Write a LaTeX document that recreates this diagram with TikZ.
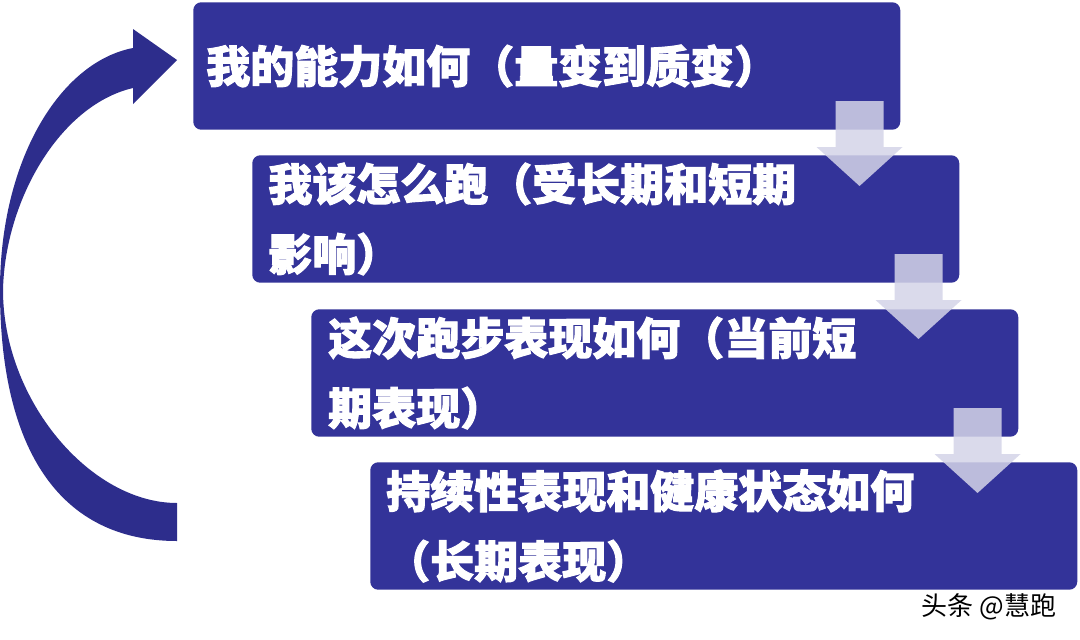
\documentclass[tikz,border=0pt]{standalone}
\usepackage{fontspec}
\newfontfamily\cjk{Noto Sans CJK SC}[BoldFeatures={FakeBold=2.2}]
\usetikzlibrary{calc}
\definecolor{boxblue}{RGB}{51,51,153}
\definecolor{arcblue}{RGB}{45,45,140}
\definecolor{arrowgrey}{RGB}{212,212,232}
\tikzset{
  stepbox/.style={fill=boxblue, rounded corners=6pt, anchor=north west, text=white,
    font=\cjk\bfseries\fontsize{33pt}{52.5pt}\selectfont, align=left,
    minimum height=95.6pt, inner ysep=0pt},
  downarr/.style={fill=arrowgrey, fill opacity=0.85},
  bigarc/.style={fill=arcblue},
  mark text/.style={font=\cjk\fontsize{19.5pt}{19.5pt}\selectfont, text=black},
}
\newcommand\blockdown[1]{%
  \coordinate (t#1) at ($(#1.south east)+(-41,0)$);
  \fill[downarr] ($(t#1)+(-24,-29)$) -- ($(t#1)+(24,-29)$) -- ($(t#1)+(24,17)$)
    -- ($(t#1)+(43,17)$) -- ($(t#1)+(0,56)$) -- ($(t#1)+(-43,17)$)
    -- ($(t#1)+(-24,17)$) -- cycle;}
\begin{document}
\begin{tikzpicture}[x=0.75pt,y=-0.75pt]
\fill[white] (0,0) rectangle (1080,639);
\useasboundingbox (0,0) rectangle (1080,639);
% curved return arrow
\fill[bigarc] (177,541) -- (177,503)
  .. controls (90,503) and (3,400) .. (3,290)
  .. controls (5,200) and (60,105) .. (133,88)
  -- (133,104) -- (177,60) -- (133,29) -- (133,48)
  .. controls (60,62) and (0,160) .. (0,290)
  .. controls (0,450) and (60,541) .. (177,541) -- cycle;
% step boxes
\node[stepbox, inner xsep=9.75pt, text width=510.75pt] (b1) at (193,2)
  {\raisebox{2pt}{我的能力如何（量变到质变）}};
\node[stepbox, inner xsep=12pt, text width=506.25pt] (b2) at (252,155)
  {我该怎么跑（受长期和短期\\影响）};
\node[stepbox, inner xsep=12.75pt, text width=504.75pt] (b3) at (311,309)
  {这次跑步表现如何（当前短\\期表现）};
\node[stepbox, inner xsep=12pt, text width=506.25pt] (b4) at (370,462)
  {持续性表现和健康状态如何\\（长期表现）};
% down arrows between boxes
\blockdown{b1}
\blockdown{b2}
\blockdown{b3}
% watermark
\node[mark text] (wm) at (989,607) {头条 @慧跑};
\end{tikzpicture}
\end{document}
